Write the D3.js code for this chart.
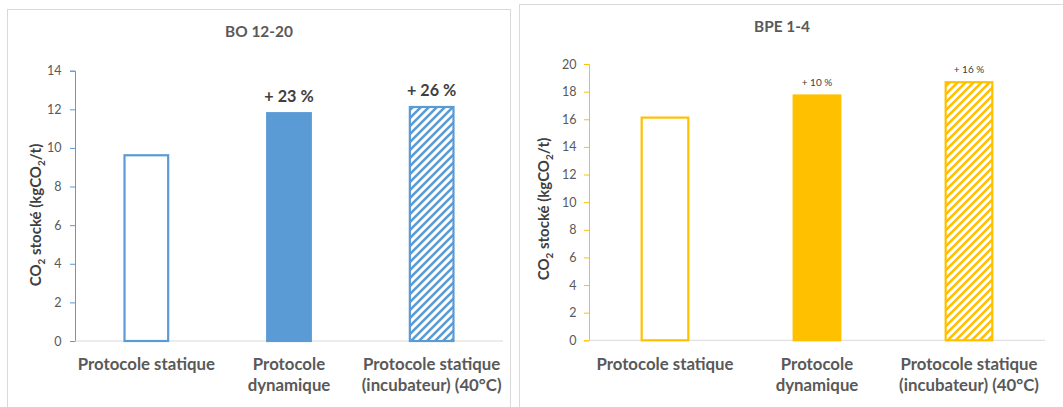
<!DOCTYPE html>
<html>
<head>
<meta charset="utf-8">
<script src="https://cdn.jsdelivr.net/npm/d3@7"></script>
<style>
  html, body { margin: 0; padding: 0; background: #fff; }
  svg { display: block; font-family: Lato, "Open Sans", sans-serif; }
</style>
</head>
<body>
<svg id="chart" width="1063" height="407"></svg>
<script>
// Categories shared by both panels, with the line breaks used under the axis
const categories = ["Protocole statique", "Protocole dynamique", "Protocole statique (incubateur) (40°C)"];
const categoryLines = [["Protocole statique"], ["Protocole", "dynamique"], ["Protocole statique", "(incubateur) (40°C)"]];

// BO 12-20 : stored CO2 (kgCO2/t)
const boValues = [9.62, 11.8, 12.12];
const boGains = ["", "+ 23 %", "+ 26 %"];
const boTicks = [0, 2, 4, 6, 8, 10, 12, 14];

// BPE 1-4 : stored CO2 (kgCO2/t)
const bpeValues = [16.12, 17.72, 18.68];
const bpeGains = ["", "+ 10 %", "+ 16 %"];
const bpeTicks = [0, 2, 4, 6, 8, 10, 12, 14, 16, 18, 20];

// Fill style per bar: outline only, solid, diagonal hatch
const barStyles = ["outline", "solid", "hatch"];

const svg = d3.select("#chart");
const defs = svg.append("defs");

function hatchPattern(id, color) {
  const p = defs.append("pattern")
    .attr("id", id)
    .attr("patternUnits", "userSpaceOnUse")
    .attr("width", 8).attr("height", 8);
  p.append("rect").attr("width", 8).attr("height", 8).attr("fill", "#fff");
  p.append("path")
    .attr("d", "M-2,2 L2,-2 M0,8 L8,0 M6,10 L10,6")
    .attr("stroke", color)
    .attr("stroke-width", 2.6)
    .attr("stroke-linecap", "square");
}

function drawPanel(cfg) {
  const g = svg.append("g");

  // chart frame
  g.append("rect")
    .attr("x", cfg.frame[0]).attr("y", cfg.frame[1])
    .attr("width", cfg.frame[2]).attr("height", cfg.frame[3])
    .attr("fill", "#fff").attr("stroke", "#d9d9d9").attr("stroke-width", 1);

  // title
  g.append("text")
    .attr("x", cfg.titleX).attr("y", cfg.titleY)
    .attr("text-anchor", "middle")
    .attr("font-size", 15.4).attr("font-weight", 700)
    .attr("fill", "#595959")
    .text(cfg.title);

  const x = d3.scaleBand()
    .domain(categories)
    .range([cfg.x0, cfg.x1])
    .paddingInner(0.68)
    .paddingOuter(0.34);

  const y = d3.scaleLinear()
    .domain([0, cfg.yMax])
    .range([cfg.yBottom, cfg.yTop]);

  hatchPattern(cfg.id + "-hatch", cfg.color);

  // value axis
  const yAxis = d3.axisLeft(y)
    .tickValues(cfg.ticks)
    .tickSize(5)
    .tickPadding(cfg.tickPad)
    .tickFormat(d3.format("d"));
  const ya = g.append("g")
    .attr("transform", `translate(${cfg.x0},0)`)
    .call(yAxis);
  ya.select(".domain").attr("stroke", cfg.color).attr("stroke-width", 1);
  ya.selectAll(".tick line").attr("stroke", cfg.color);
  ya.selectAll(".tick text")
    .attr("font-family", "Lato, 'Open Sans', sans-serif")
    .attr("font-size", 12.5)
    .attr("fill", "#595959");

  // category axis baseline
  g.append("line")
    .attr("x1", cfg.x0).attr("x2", cfg.x1)
    .attr("y1", y(0)).attr("y2", y(0))
    .attr("stroke", "#d9d9d9").attr("stroke-width", 1);

  // bars
  g.selectAll("rect.bar")
    .data(cfg.values)
    .join("rect")
    .attr("class", "bar")
    .attr("x", (d, i) => x(categories[i]) + 1)
    .attr("width", x.bandwidth() - 2)
    .attr("y", d => y(d))
    .attr("height", d => y(0) - y(d))
    .attr("fill", (d, i) => barStyles[i] === "solid" ? cfg.color
      : barStyles[i] === "hatch" ? `url(#${cfg.id}-hatch)` : "#fff")
    .attr("stroke", cfg.color)
    .attr("stroke-width", 2.2);

  // gain labels above bars
  g.selectAll("text.gain")
    .data(cfg.values)
    .join("text")
    .attr("class", "gain")
    .attr("x", (d, i) => x(categories[i]) + x.bandwidth() / 2)
    .attr("y", d => y(d) - cfg.gainOffset)
    .attr("text-anchor", "middle")
    .attr("font-size", cfg.gainSize)
    .attr("font-weight", cfg.gainWeight)
    .attr("fill", "#404040")
    .text((d, i) => cfg.gains[i]);

  // category labels
  categories.forEach((c, i) => {
    const t = g.append("text")
      .attr("x", x(c) + x.bandwidth() / 2)
      .attr("y", cfg.catY)
      .attr("text-anchor", "middle")
      .attr("font-size", 16.8).attr("font-weight", 700)
      .attr("fill", "#595959");
    categoryLines[i].forEach((line, k) => {
      t.append("tspan")
        .attr("x", x(c) + x.bandwidth() / 2)
        .attr("dy", k === 0 ? 0 : 20.6)
        .text(line);
    });
  });

  // value axis title
  const yt = g.append("text")
    .attr("transform", `translate(${cfg.yLabelX},${cfg.yLabelY}) rotate(-90)`)
    .attr("text-anchor", "middle")
    .attr("font-size", 15).attr("font-weight", 700)
    .attr("fill", "#404040");
  yt.append("tspan").text("CO");
  yt.append("tspan").attr("font-size", 10).attr("dy", 4).text("2");
  yt.append("tspan").attr("dy", -4).text(" stocké (kgCO");
  yt.append("tspan").attr("font-size", 10).attr("dy", 4).text("2");
  yt.append("tspan").attr("dy", -4).text("/t)");
}

drawPanel({
  id: "bo", title: "BO 12-20", color: "#5b9bd5",
  frame: [7.5, 9.5, 503, 400], titleX: 259, titleY: 36.5,
  x0: 75, x1: 503, yTop: 70.7, yBottom: 341, yMax: 14,
  ticks: boTicks, tickPad: 8.5, values: boValues, gains: boGains,
  gainOffset: 11, gainSize: 16.2, gainWeight: 700,
  catY: 370, yLabelX: 40.5, yLabelY: 215
});

drawPanel({
  id: "bpe", title: "BPE 1-4", color: "#ffc000",
  frame: [519.5, 4.5, 560, 410], titleX: 782, titleY: 31.5,
  x0: 589, x1: 1045, yTop: 64, yBottom: 340.3, yMax: 20,
  ticks: bpeTicks, tickPad: 7.5, values: bpeValues, gains: bpeGains,
  gainOffset: 9.5, gainSize: 10, gainWeight: 400,
  catY: 370, yLabelX: 548.5, yLabelY: 209
});
</script>
</body>
</html>
